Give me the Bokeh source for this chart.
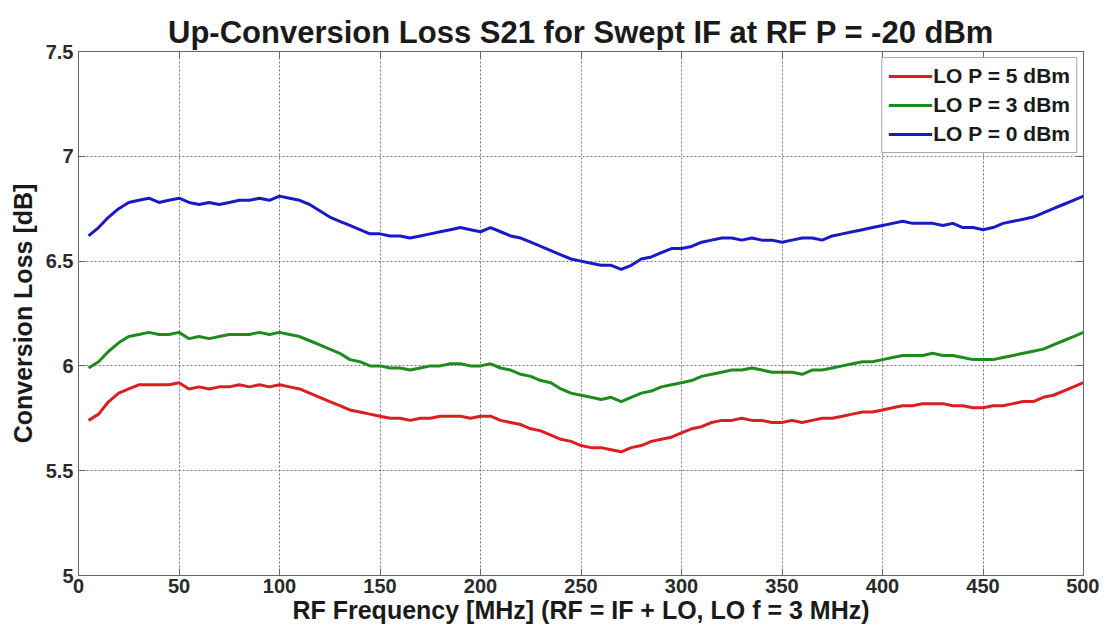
from bokeh.plotting import figure
from bokeh.models import LinearAxis, FixedTicker, CustomJSTickFormatter, Legend, LegendItem, ColumnDataSource
from bokeh.embed import file_html
from bokeh.resources import INLINE

freq = list(range(5, 501, 5))

lo_5dbm = [5.74, 5.77, 5.83, 5.87, 5.89, 5.91, 5.91, 5.91, 5.91, 5.92,
           5.89, 5.90, 5.89, 5.90, 5.90, 5.91, 5.90, 5.91, 5.90, 5.91,
           5.90, 5.89, 5.87, 5.85, 5.83, 5.81, 5.79, 5.78, 5.77, 5.76,
           5.75, 5.75, 5.74, 5.75, 5.75, 5.76, 5.76, 5.76, 5.75, 5.76,
           5.76, 5.74, 5.73, 5.72, 5.70, 5.69, 5.67, 5.65, 5.64, 5.62,
           5.61, 5.61, 5.60, 5.59, 5.61, 5.62, 5.64, 5.65, 5.66, 5.68,
           5.70, 5.71, 5.73, 5.74, 5.74, 5.75, 5.74, 5.74, 5.73, 5.73,
           5.74, 5.73, 5.74, 5.75, 5.75, 5.76, 5.77, 5.78, 5.78, 5.79,
           5.80, 5.81, 5.81, 5.82, 5.82, 5.82, 5.81, 5.81, 5.80, 5.80,
           5.81, 5.81, 5.82, 5.83, 5.83, 5.85, 5.86, 5.88, 5.90, 5.92]

lo_3dbm = [5.99, 6.02, 6.07, 6.11, 6.14, 6.15, 6.16, 6.15, 6.15, 6.16,
           6.13, 6.14, 6.13, 6.14, 6.15, 6.15, 6.15, 6.16, 6.15, 6.16,
           6.15, 6.14, 6.12, 6.10, 6.08, 6.06, 6.03, 6.02, 6.00, 6.00,
           5.99, 5.99, 5.98, 5.99, 6.00, 6.00, 6.01, 6.01, 6.00, 6.00,
           6.01, 5.99, 5.98, 5.96, 5.95, 5.93, 5.92, 5.89, 5.87, 5.86,
           5.85, 5.84, 5.85, 5.83, 5.85, 5.87, 5.88, 5.90, 5.91, 5.92,
           5.93, 5.95, 5.96, 5.97, 5.98, 5.98, 5.99, 5.98, 5.97, 5.97,
           5.97, 5.96, 5.98, 5.98, 5.99, 6.00, 6.01, 6.02, 6.02, 6.03,
           6.04, 6.05, 6.05, 6.05, 6.06, 6.05, 6.05, 6.04, 6.03, 6.03,
           6.03, 6.04, 6.05, 6.06, 6.07, 6.08, 6.10, 6.12, 6.14, 6.16]

lo_0dbm = [6.62, 6.66, 6.71, 6.75, 6.78, 6.79, 6.80, 6.78, 6.79, 6.80,
           6.78, 6.77, 6.78, 6.77, 6.78, 6.79, 6.79, 6.80, 6.79, 6.81,
           6.80, 6.79, 6.77, 6.74, 6.71, 6.69, 6.67, 6.65, 6.63, 6.63,
           6.62, 6.62, 6.61, 6.62, 6.63, 6.64, 6.65, 6.66, 6.65, 6.64,
           6.66, 6.64, 6.62, 6.61, 6.59, 6.57, 6.55, 6.53, 6.51, 6.50,
           6.49, 6.48, 6.48, 6.46, 6.48, 6.51, 6.52, 6.54, 6.56, 6.56,
           6.57, 6.59, 6.60, 6.61, 6.61, 6.60, 6.61, 6.60, 6.60, 6.59,
           6.60, 6.61, 6.61, 6.60, 6.62, 6.63, 6.64, 6.65, 6.66, 6.67,
           6.68, 6.69, 6.68, 6.68, 6.68, 6.67, 6.68, 6.66, 6.66, 6.65,
           6.66, 6.68, 6.69, 6.70, 6.71, 6.73, 6.75, 6.77, 6.79, 6.81]

title_text = "Up-Conversion Loss S21 for Swept IF at RF P = -20 dBm"
series_labels = ["LO P = 5 dBm", "LO P = 3 dBm", "LO P = 0 dBm"]
series_colors = ["#d92020", "#1f8a1f", "#1a1ac4"]
x_ticks = [0, 50, 100, 150, 200, 250, 300, 350, 400, 450, 500]
y_ticks = [5, 5.5, 6, 6.5, 7, 7.5]

FONT = "Liberation Sans"
AXC = "#666666"

p = figure(width=1099, height=628, output_backend="svg", toolbar_location=None,
           x_range=(0, 500), y_range=(5, 7.5),
           min_border_left=78, min_border_right=16, min_border_top=51, min_border_bottom=53,
           x_axis_label="RF Frequency [MHz] (RF = IF + LO, LO f = 3 MHz)",
           y_axis_label="Conversion Loss [dB]")

p.title.text = title_text
p.title.align = "center"
p.title.text_font = FONT
p.title.text_font_size = "31px"
p.title.text_font_style = "bold"
p.title.text_color = "#1a1a1a"
p.title.standoff = 4

fmt = CustomJSTickFormatter(code="return String(tick);")

for ax in p.xaxis + p.yaxis:
    ax.major_label_text_font = FONT
    ax.major_label_text_font_size = "20px"
    ax.major_label_text_font_style = "bold"
    ax.major_label_text_color = "#2a2a2a"
    ax.axis_label_text_font = FONT
    ax.axis_label_text_font_size = "25px"
    ax.axis_label_text_font_style = "bold"
    ax.axis_label_text_color = "#1a1a1a"
    ax.major_tick_in = 7
    ax.major_tick_out = 0
    ax.minor_tick_line_color = None
    ax.axis_line_color = AXC
    ax.major_tick_line_color = AXC
    ax.formatter = fmt

p.xaxis.ticker = FixedTicker(ticks=x_ticks)
p.yaxis.ticker = FixedTicker(ticks=y_ticks)
p.xaxis.axis_label_standoff = 0
p.yaxis.axis_label_standoff = 6
p.xaxis.major_label_standoff = 3
p.yaxis.major_label_standoff = 5

# Mirror ticks on top and right (MATLAB box style), no labels drawn
for loc, ticks in (("above", x_ticks), ("right", y_ticks)):
    mirror = LinearAxis(ticker=FixedTicker(ticks=ticks), major_label_text_color=None,
                        major_label_text_font_size="1px", major_label_standoff=0,
                        major_tick_in=7, major_tick_out=0, minor_tick_line_color=None,
                        axis_line_color=AXC, major_tick_line_color=AXC)
    p.add_layout(mirror, loc)

p.xgrid.ticker = FixedTicker(ticks=x_ticks)
p.ygrid.ticker = FixedTicker(ticks=y_ticks)
for g in (p.xgrid, p.ygrid):
    g.grid_line_color = "#555555"
    g.grid_line_dash = "2 2"
    g.grid_line_width = 1
    g.grid_line_alpha = 0.8

p.outline_line_color = AXC
p.outline_line_width = 1
p.background_fill_color = "white"
p.border_fill_color = "white"

renderers = []
for ys, col in zip([lo_5dbm, lo_3dbm, lo_0dbm], series_colors):
    src = ColumnDataSource(dict(x=freq, y=ys))
    r = p.line("x", "y", source=src, line_color=col, line_width=3)
    renderers.append(r)

legend = Legend(items=[LegendItem(label=l, renderers=[r]) for l, r in zip(series_labels, renderers)],
                location="top_right")
legend.label_text_font = FONT
legend.label_text_font_size = "21px"
legend.label_text_font_style = "bold"
legend.label_text_color = "#1a1a1a"
legend.border_line_color = "#555555"
legend.border_line_width = 1
legend.glyph_width = 44
legend.glyph_height = 22
legend.label_height = 22
legend.label_standoff = 1
legend.spacing = 5
legend.padding = 6
legend.margin = 6
p.add_layout(legend, "center")

open("out.html", "w").write(file_html(p, INLINE))
